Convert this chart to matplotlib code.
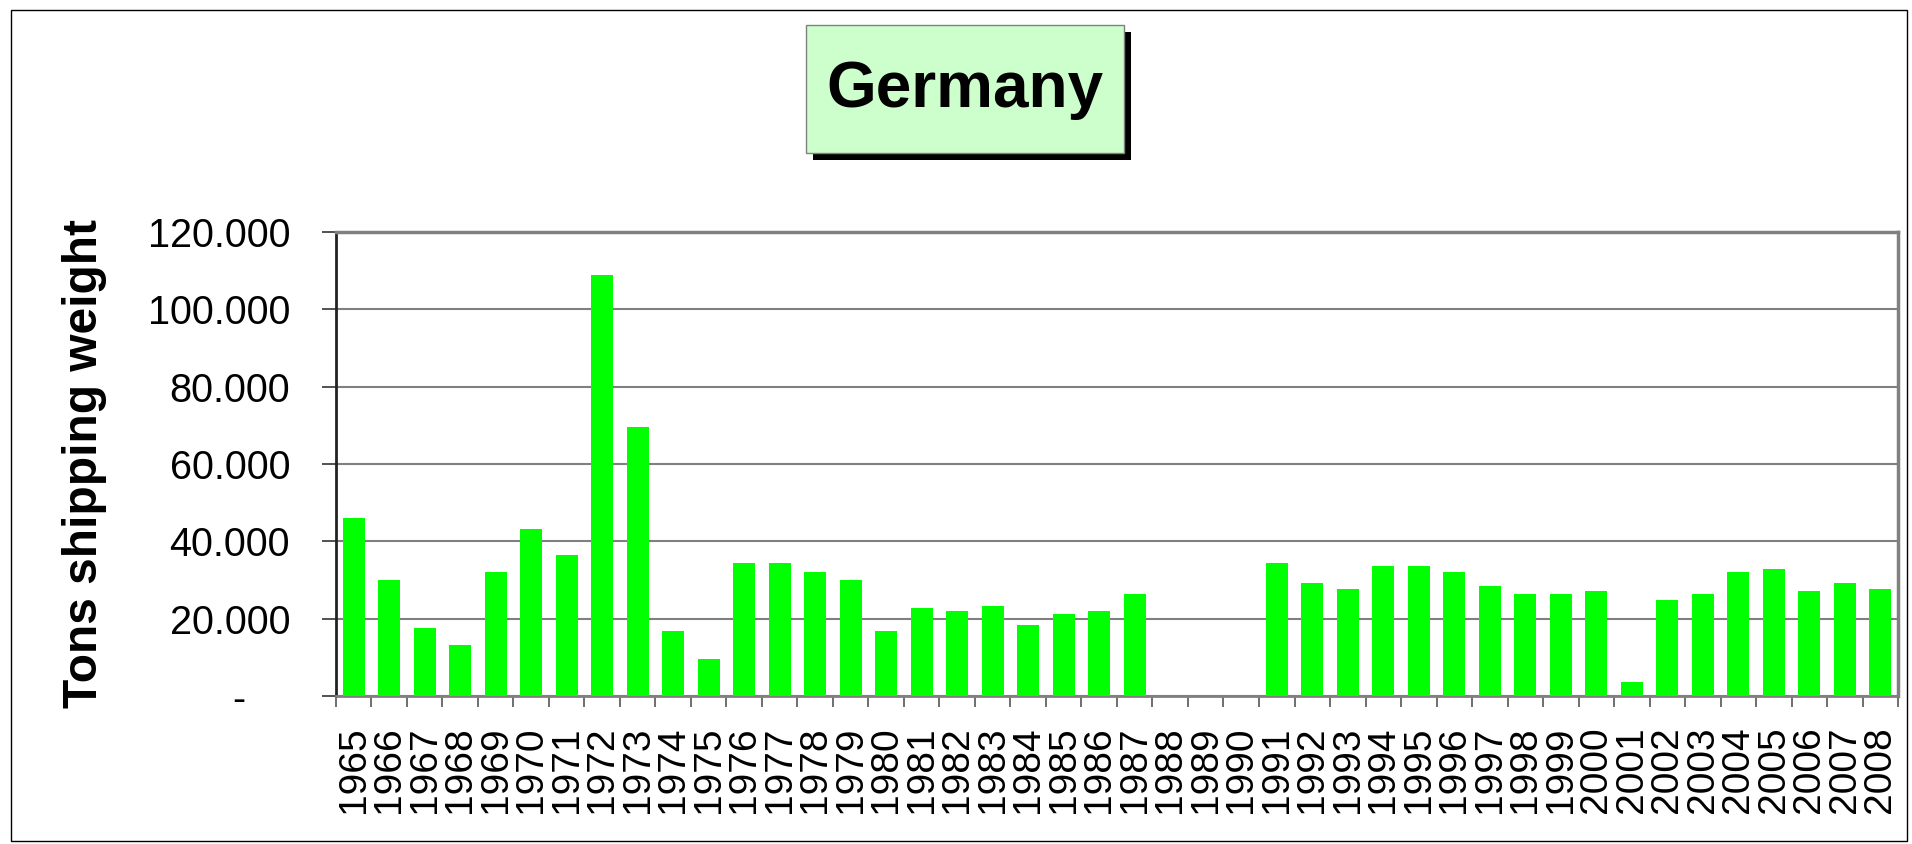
import matplotlib.pyplot as plt
from matplotlib.patches import Rectangle
from matplotlib.ticker import FixedLocator

plt.rcParams['font.family'] = ['Liberation Sans', 'DejaVu Sans']

# Data (tons)
years = [str(y) for y in range(1965, 2009)]
tons = [46000, 30000, 17500, 13100, 32000, 43200, 36400, 108900, 69600, 16700,
        9500, 34400, 34400, 32000, 30000, 16800, 22800, 22000, 23300, 18400,
        21200, 22000, 26400, 0, 0, 0, 34400, 29300, 27700, 33700,
        33700, 32100, 28500, 26400, 26400, 27200, 3600, 24900, 26400, 32100,
        32900, 27200, 29300, 27700]
y_ticks = [0, 20000, 40000, 60000, 80000, 100000, 120000]
y_ticklabels = ['-    ', '20.000', '40.000', '60.000', '80.000', '100.000', '120.000']

fig = plt.figure(figsize=(19.12, 8.44), dpi=100)
ax = fig.add_axes([0.1757, 0.1754, 0.817, 0.5497])

x = list(range(len(years)))
ax.bar(x, tons, width=0.61, color='#00FF00', zorder=3)

ax.set_xlim(-0.5, len(years) - 0.5)
ax.set_ylim(0, 120000)

ax.set_yticks(y_ticks)
ax.set_yticklabels(y_ticklabels, fontsize=28.5)
ax.yaxis.grid(True, color='#808080', linewidth=1.5, zorder=0)
ax.tick_params(axis='y', length=10, width=1.2, pad=23, color='#333333')

ax.set_xticks(x)
ax.set_xticklabels(years, rotation=90, fontsize=28)
ax.xaxis.set_minor_locator(FixedLocator([i - 0.5 for i in range(len(years) + 1)]))
ax.tick_params(axis='x', which='major', length=0, pad=22)
ax.tick_params(axis='x', which='minor', length=8, width=1.2, color='#555555')

ax.spines['left'].set_color('#222222')
ax.spines['left'].set_linewidth(2)
ax.spines['bottom'].set_color('#808080')
ax.spines['bottom'].set_linewidth(2)
ax.spines['right'].set_color('#808080')
ax.spines['right'].set_linewidth(2.5)
ax.spines['top'].set_color('#808080')
ax.spines['top'].set_linewidth(2.5)

ax.set_ylabel('Tons shipping weight', fontsize=34.5, fontweight='bold')
ax.yaxis.set_label_coords(-0.1466, 0.5)

# title box with shadow
bx, by, bw, bh = 0.4215, 0.8187, 0.1663, 0.1517
fig.patches.append(Rectangle((bx + 0.0037, by - 0.0085), bw, bh,
                             transform=fig.transFigure, facecolor='black',
                             edgecolor='none', zorder=1))
fig.patches.append(Rectangle((bx, by), bw, bh,
                             transform=fig.transFigure, facecolor='#CCFFCC',
                             edgecolor='#808080', linewidth=1, zorder=2))
fig.text(bx + bw / 2, 0.8732, 'Germany', fontsize=46,
         fontweight='bold', ha='center', va='baseline', zorder=3)

# outer border
fig.patches.append(Rectangle((0.0055, 0.004), 0.992, 0.984,
                             transform=fig.transFigure, facecolor='none',
                             edgecolor='black', linewidth=1))

fig.savefig('out.png', dpi=100)
